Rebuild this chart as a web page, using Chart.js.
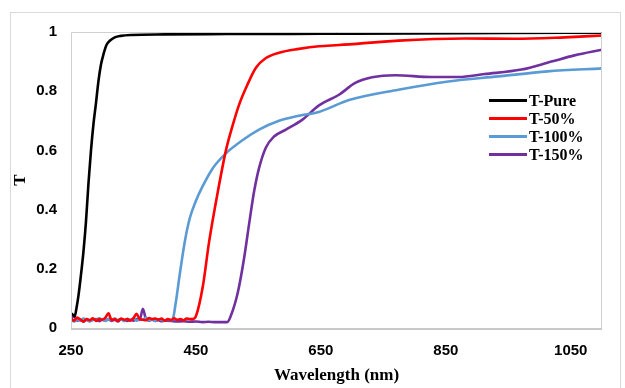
<!DOCTYPE html>
<html>
<head>
<meta charset="utf-8">
<script src="https://cdn.jsdelivr.net/npm/chart.js@4"></script>
<style>
html,body{margin:0;padding:0;background:#fff;}
#wrap{position:relative;width:625px;height:388px;overflow:hidden;}
canvas{position:absolute;left:0;top:0;}
</style>
</head>
<body>
<div id="wrap"><canvas id="c" width="625" height="388"></canvas></div>
<script>
// ---- data ----
const xTicks = [250, 450, 650, 850, 1050];
const seriesNames = ['T-Pure', 'T-50%', 'T-100%', 'T-150%'];
const seriesColors = ['#000000', '#ff0000', '#5b9bd5', '#7030a0'];

const pureWl = [250,253,256,259,262,266,270,274,278,282,286,290,294,298,302,307,313,320,330,347,400,500,650,800,950,1100];
const pureT  = [0.05,0.045,0.04,0.07,0.11,0.18,0.26,0.36,0.49,0.60,0.69,0.76,0.835,0.89,0.925,0.957,0.972,0.982,0.987,0.99,0.992,0.993,0.994,0.995,0.997,0.998];

const red50Wl = [250,255,260,265,270,275,280,285,290,295,300,305,310,315,320,325,330,335,340,345,350,355,360,365,370,375,380,385,390,395,400,405,410,415,420,425,430,435,440,445,
                 450,461,471,485,498,509,519,532,546,562,583,615,647,679,774,880,960,1040,1100];
const red50T  = [0.03,0.025,0.035,0.028,0.022,0.03,0.026,0.033,0.024,0.03,0.028,0.035,0.05,0.027,0.03,0.024,0.032,0.028,0.03,0.025,0.033,0.048,0.03,0.028,0.026,0.034,0.03,0.032,0.028,0.032,0.025,0.03,0.027,0.033,0.028,0.03,0.026,0.032,0.03,0.03,
                 0.04,0.14,0.29,0.46,0.60,0.686,0.754,0.82,0.879,0.912,0.93,0.943,0.952,0.956,0.971,0.978,0.977,0.982,0.988];

const blue100Wl = [250,255,260,265,270,275,280,285,290,295,300,305,310,315,320,325,330,335,340,345,350,355,360,365,370,375,380,385,390,395,400,405,410,
                   413,418,424,432,440,450,461,477,498,525,551,583,615,647,695,774,854,934,1013,1100];
const blue100T  = [0.028,0.022,0.03,0.025,0.032,0.027,0.022,0.03,0.026,0.033,0.028,0.024,0.03,0.026,0.032,0.027,0.03,0.023,0.031,0.027,0.033,0.025,0.03,0.028,0.035,0.026,0.03,0.024,0.029,0.027,0.025,0.028,0.026,
                   0.03,0.09,0.18,0.29,0.37,0.43,0.48,0.54,0.59,0.635,0.67,0.70,0.717,0.73,0.77,0.805,0.833,0.85,0.867,0.877];

const purple150Wl = [250,255,260,265,270,275,280,285,290,295,300,305,310,315,320,325,330,335,340,345,350,355,360,365,370,375,380,385,390,395,400,410,420,430,440,450,460,470,480,490,500,
                     506,517,527,535,543,551,562,575,594,620,647,679,705,732,769,827,870,912,971,1019,1056,1100];
const purple150T  = [0.03,0.04,0.025,0.028,0.022,0.03,0.024,0.027,0.03,0.023,0.028,0.025,0.03,0.024,0.028,0.022,0.03,0.026,0.024,0.028,0.025,0.03,0.027,0.065,0.03,0.025,0.028,0.024,0.026,0.023,0.025,0.024,0.022,0.023,0.021,0.022,0.02,0.021,0.02,0.02,0.02,
                     0.042,0.12,0.235,0.35,0.46,0.54,0.61,0.647,0.67,0.703,0.752,0.788,0.828,0.847,0.854,0.848,0.848,0.858,0.873,0.90,0.921,0.94];

const wlSets = [pureWl, red50Wl, blue100Wl, purple150Wl];
const tSets  = [pureT, red50T, blue100T, purple150T];

const datasets = seriesNames.map((name, i) => ({
  label: name,
  data: wlSets[i].map((w, k) => ({x: w, y: tSets[i][k]})),
  borderColor: seriesColors[i],
  backgroundColor: seriesColors[i],
  borderWidth: 2.6,
  pointRadius: 0,
  showLine: true,
  fill: false,
  cubicInterpolationMode: 'monotone'
}));

const frame = {
  id: 'frame',
  beforeDraw(chart) {
    const ctx = chart.ctx;
    ctx.save();
    ctx.strokeStyle = '#d9d9d9';
    ctx.lineWidth = 1;
    ctx.strokeRect(10.5, 12.5, 610, 400);
    ctx.restore();
  },
  afterDatasetsDraw(chart) {
    const a = chart.chartArea, ctx = chart.ctx;
    ctx.save();
    ctx.strokeStyle = '#d0d0d0';
    ctx.lineWidth = 1;
    ctx.beginPath();
    ctx.moveTo(a.left + 0.5, a.bottom); ctx.lineTo(a.left + 0.5, a.top + 0.5);
    ctx.lineTo(a.right - 0.5, a.top + 0.5); ctx.lineTo(a.right - 0.5, a.bottom);
    ctx.stroke();
    ctx.strokeStyle = '#c8c8c8';
    ctx.lineWidth = 2;
    ctx.beginPath();
    ctx.moveTo(a.left, a.bottom + 1); ctx.lineTo(a.right, a.bottom + 1);
    ctx.stroke();
    // legend
    const lx = 489, ly = 100.5, step = 18;
    ctx.font = 'bold 16px "Liberation Serif", "Times New Roman", serif';
    ctx.textBaseline = 'middle';
    ctx.textAlign = 'left';
    chart.data.datasets.forEach((ds, i) => {
      const y = ly + i * step;
      ctx.strokeStyle = ds.borderColor;
      ctx.lineWidth = 3;
      ctx.beginPath(); ctx.moveTo(lx, y); ctx.lineTo(lx + 38, y); ctx.stroke();
      ctx.fillStyle = '#000';
      ctx.fillText(ds.label, lx + 40, y + 1);
    });
    ctx.restore();
  }
};

new Chart(document.getElementById('c'), {
  type: 'scatter',
  data: { datasets },
  plugins: [frame],
  options: {
    responsive: false,
    animation: false,
    layout: { padding: { left: 0, top: 32, right: 23, bottom: 0 } },
    plugins: { legend: { display: false }, tooltip: { enabled: false } },
    scales: {
      x: {
        type: 'linear', min: 250, max: 1100,
        afterBuildTicks: s => { s.ticks = xTicks.map(v => ({value: v})); },
        afterFit: s => { s.height = 60; },
        grid: { display: false, drawTicks: false },
        border: { display: false },
        ticks: { padding: 14, color: '#000', maxRotation: 0, autoSkip: false,
                 callback: v => String(v),
                 font: { family: '"Liberation Sans", Arial, sans-serif', size: 15, weight: 'bold' } },
        title: { display: true, text: 'Wavelength (nm)', color: '#000', padding: { top: 0, bottom: 2 },
                 font: { family: '"Liberation Serif", "Times New Roman", serif', size: 17, weight: 'bold' } }
      },
      y: {
        min: 0, max: 1,
        afterFit: s => { s.width = 71; },
        grid: { display: false, drawTicks: false },
        border: { display: false },
        ticks: { stepSize: 0.2, padding: 14, color: '#000',
                 callback: v => String(Math.round(v * 10) / 10),
                 font: { family: '"Liberation Sans", Arial, sans-serif', size: 15, weight: 'bold' } },
        title: { display: true, text: 'T', color: '#000', padding: { top: 10, bottom: 0 },
                 font: { family: '"Liberation Serif", "Times New Roman", serif', size: 17, weight: 'bold' } }
      }
    }
  }
});
</script>
</body>
</html>
